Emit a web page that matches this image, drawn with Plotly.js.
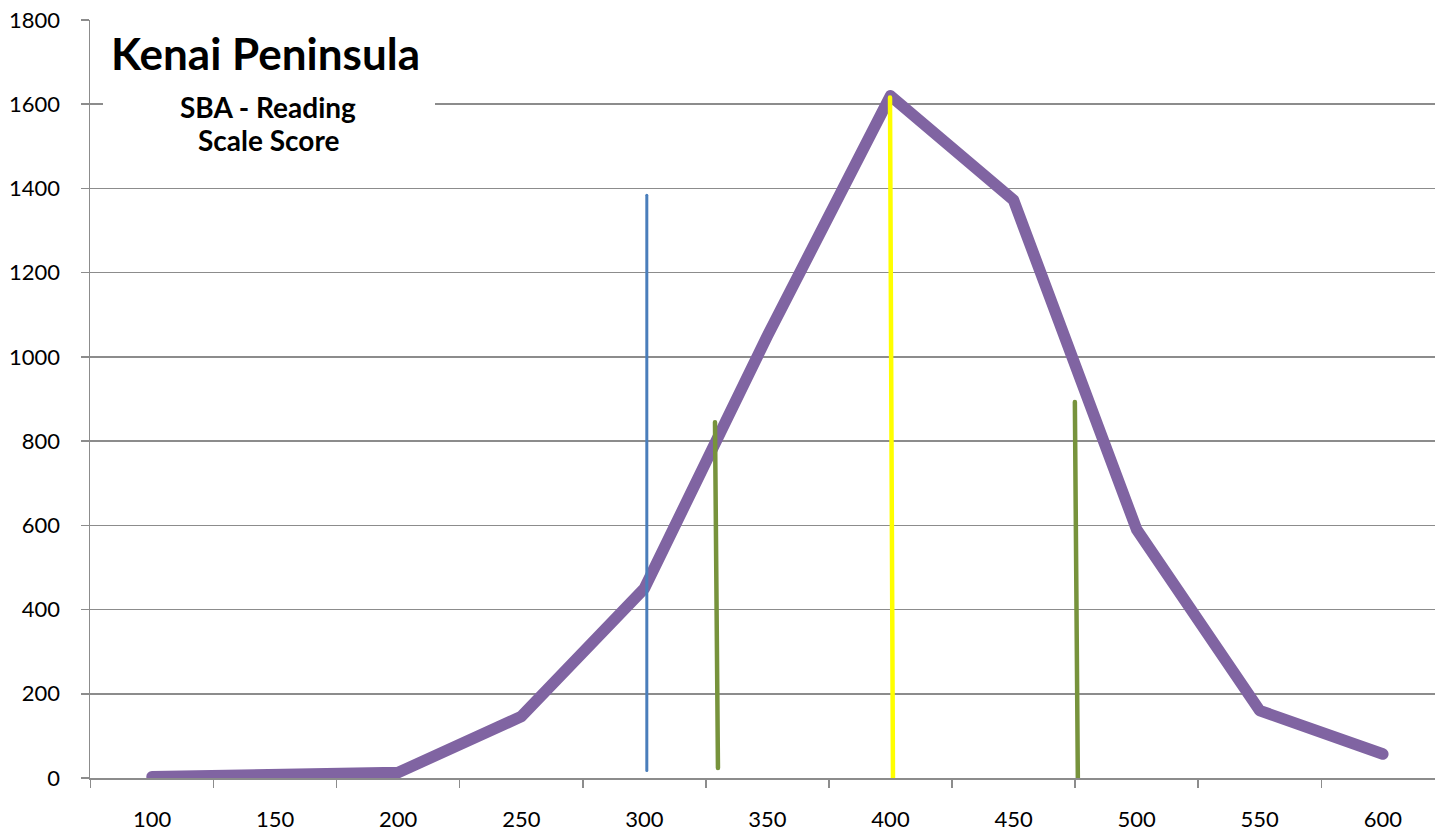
<!DOCTYPE html>
<html>
<head>
<meta charset="utf-8">
<script src="https://cdn.plot.ly/plotly-3.0.1.min.js"></script>
<style>
html, body { margin: 0; padding: 0; background: #fff; overflow: hidden; }
#chart { width: 1435px; height: 837px; }
.scatterlayer path.js-line { stroke-linecap: round; stroke-linejoin: round; }
</style>
</head>
<body>
<div id="chart"></div>
<script>
// Score distribution (purple line)
const scores = [100, 150, 200, 250, 300, 350, 400, 450, 500, 550, 600];
const counts = [3, 8, 13, 146, 450, 1050, 1620, 1372, 590, 160, 57];

// Reference marker lines
const blueX = [301, 301];
const blueY = [1384, 18];
const greenLeftX = [328.7, 329.9];
const greenLeftY = [845, 24];
const yellowX = [399.8, 401];
const yellowY = [1616, 0];
const greenRightX = [474.9, 476.1];
const greenRightY = [893, 0];

const xTickVals = [100, 150, 200, 250, 300, 350, 400, 450, 500, 550, 600];
const xTickText = ['100', '150', '200', '250', '300', '350', '400', '450', '500', '550', '600'];
const yTickVals = [0, 200, 400, 600, 800, 1000, 1200, 1400, 1600, 1800];

const titleMain = 'Kenai Peninsula';
const titleSub1 = 'SBA - Reading';
const titleSub2 = 'Scale Score';

const purple = '#8064A2';
const blue = '#4A7EBB';
const green = '#77933C';
const yellow = '#FFFF00';
const gridGray = '#8C8C8C';
const fontFam = 'Lato, "Open Sans", sans-serif';

const traces = [
  { x: scores, y: counts, mode: 'lines', line: { color: purple, width: 11.5 }, hoverinfo: 'x+y' },
  { x: blueX, y: blueY, mode: 'lines', line: { color: blue, width: 3 } },
  { x: greenLeftX, y: greenLeftY, mode: 'lines', line: { color: green, width: 4.5 } },
  { x: yellowX, y: yellowY, mode: 'lines', line: { color: yellow, width: 4.5 } },
  { x: greenRightX, y: greenRightY, mode: 'lines', line: { color: green, width: 4.5 } }
];

const px = v => (v - 90) / 1345;
const py = v => (778 - v) / 758;

const layout = {
  width: 1435,
  height: 837,
  margin: { l: 90, r: 0, t: 20, b: 59 },
  paper_bgcolor: '#ffffff',
  plot_bgcolor: '#ffffff',
  showlegend: false,
  font: { family: fontFam, color: '#000000', size: 22 },
  xaxis: {
    type: 'linear',
    range: [74.8, 621.2],
    tickvals: xTickVals,
    ticktext: xTickText,
    ticks: '',
    showgrid: false,
    zeroline: false,
    showline: true,
    linecolor: gridGray,
    linewidth: 1.5,
    ticklabelstandoff: 21,
    tickfont: { family: fontFam, size: 22, color: '#000' },
    minor: { tick0: 75, dtick: 50, ticks: 'outside', ticklen: 8, tickcolor: gridGray, tickwidth: 1.5, showgrid: false }
  },
  yaxis: {
    range: [0, 1800],
    tickvals: yTickVals,
    ticks: 'outside',
    ticklen: 8,
    tickcolor: gridGray,
    tickwidth: 1.5,
    showgrid: true,
    gridcolor: gridGray,
    gridwidth: 1.5,
    zeroline: false,
    showline: true,
    linecolor: gridGray,
    linewidth: 1.5,
    ticklabelstandoff: 16,
    tickfont: { family: fontFam, size: 22, color: '#000' }
  },
  shapes: [
    { type: 'rect', xref: 'paper', yref: 'paper', x0: px(103), x1: px(435), y0: py(165), y1: py(12),
      fillcolor: '#ffffff', line: { width: 0 }, layer: 'above' }
  ],
  annotations: [
    { xref: 'paper', yref: 'paper', x: px(265), y: py(53), xanchor: 'center', yanchor: 'middle', showarrow: false,
      text: '<b>' + titleMain + '</b>', font: { family: fontFam, size: 44, color: '#000' } },
    { xref: 'paper', yref: 'paper', x: px(268), y: py(107), xanchor: 'center', yanchor: 'middle', showarrow: false,
      text: '<b>' + titleSub1 + '</b>', font: { family: fontFam, size: 28, color: '#000' } },
    { xref: 'paper', yref: 'paper', x: px(268), y: py(140), xanchor: 'center', yanchor: 'middle', showarrow: false,
      text: '<b>' + titleSub2 + '</b>', font: { family: fontFam, size: 28, color: '#000' } }
  ]
};

Plotly.newPlot('chart', traces, layout, { displayModeBar: false, staticPlot: true });
</script>
</body>
</html>
